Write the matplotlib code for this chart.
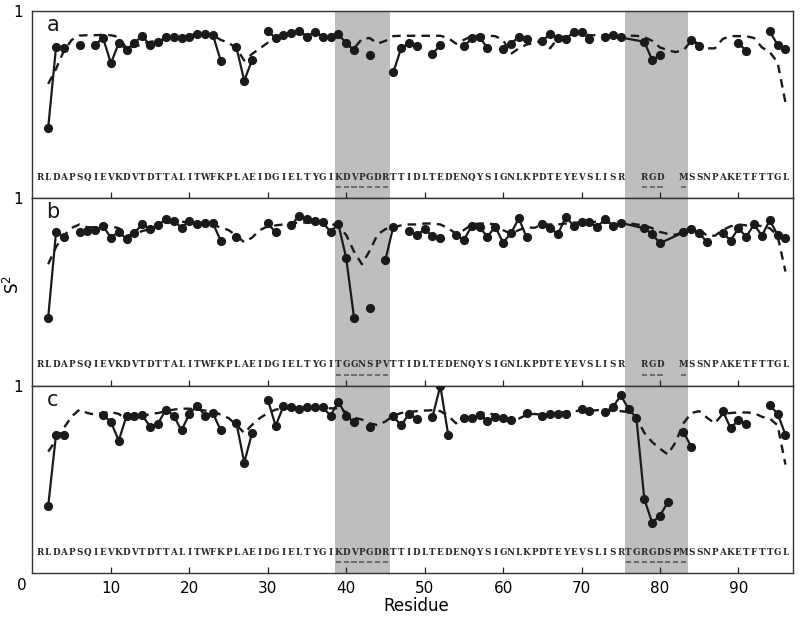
import numpy as np
import matplotlib
matplotlib.use("Agg")
import matplotlib.pyplot as plt

nan = np.nan

# ---------------- data ----------------
residues = np.arange(1, 97)

# measured S2 (solid line with dots), residue 1..96, nan = not observed
s2_a = [nan, 0.376, 0.805, 0.800, nan, 0.817, nan, 0.820, 0.855, 0.720,
        0.828, 0.793, 0.830, 0.865, 0.817, 0.833, 0.858, 0.862, 0.853, 0.858,
        0.879, 0.876, 0.872, 0.734, nan, 0.805, 0.628, 0.738, nan, 0.894,
        0.853, 0.871, 0.881, 0.895, 0.862, 0.888, 0.858, 0.863, 0.874, 0.828,
        0.789, nan, 0.762, nan, nan, 0.672, 0.800, 0.828, 0.814, nan,
        0.771, 0.817, nan, nan, 0.810, 0.853, 0.858, 0.803, nan, 0.794,
        0.823, 0.863, 0.849, nan, 0.840, 0.876, 0.855, 0.849, 0.888, 0.888,
        0.849, nan, 0.862, 0.871, 0.858, nan, nan, 0.835, 0.739, 0.762,
        nan, nan, nan, 0.846, 0.810, nan, nan, nan, nan, 0.828,
        0.787, nan, nan, 0.890, 0.819, 0.796]

s2_b = [nan, 0.362, 0.818, 0.795, nan, 0.821, 0.826, 0.830, 0.851, 0.790,
        0.821, 0.782, 0.816, 0.860, 0.836, 0.857, 0.887, 0.878, 0.843, 0.880,
        0.860, 0.869, 0.866, 0.774, nan, 0.795, nan, nan, nan, 0.866,
        0.818, nan, 0.857, 0.906, 0.887, 0.878, 0.871, 0.821, 0.862, 0.680,
        0.362, nan, 0.415, nan, 0.671, 0.848, nan, 0.826, 0.804, 0.834,
        0.798, 0.786, nan, 0.804, 0.777, 0.851, 0.845, 0.795, 0.848, 0.763,
        0.813, 0.892, 0.792, nan, 0.860, 0.839, 0.809, 0.901, 0.853, 0.874,
        0.871, 0.848, 0.887, 0.853, 0.869, nan, nan, 0.839, 0.809, 0.760,
        nan, nan, 0.818, 0.836, 0.816, 0.765, nan, 0.816, 0.774, 0.839,
        0.795, 0.860, 0.800, 0.883, 0.804, 0.789]

s2_c = [nan, 0.358, 0.739, 0.739, nan, nan, nan, nan, 0.846, 0.807,
        0.708, 0.841, 0.837, 0.843, 0.783, 0.798, 0.873, 0.841, 0.762, 0.850,
        0.895, 0.841, 0.855, 0.762, nan, 0.802, 0.591, 0.748, nan, 0.927,
        0.787, 0.891, 0.888, 0.877, 0.886, 0.886, 0.886, 0.841, 0.915, 0.841,
        0.805, nan, 0.783, nan, nan, 0.837, 0.789, 0.850, 0.823, nan,
        0.834, 1.000, 0.739, nan, 0.829, 0.829, 0.846, 0.814, 0.834, 0.829,
        0.816, nan, 0.855, nan, 0.837, 0.852, 0.852, 0.852, nan, 0.877,
        0.864, nan, 0.861, 0.886, 0.949, 0.877, 0.829, 0.397, 0.271, 0.307,
        0.379, nan, 0.753, 0.675, nan, nan, nan, 0.868, 0.775, 0.816,
        0.798, nan, nan, 0.896, 0.852, 0.739]

# predicted S2 (dashed line), residue 1..96
pred_a = [nan, 0.610, 0.690, 0.787, 0.845, 0.868, 0.870, 0.870, 0.872, 0.870,
          0.860, 0.800, 0.810, 0.820, 0.835, 0.840, 0.850, 0.855, 0.860, 0.870,
          0.875, 0.875, 0.870, 0.845, 0.830, 0.800, 0.735, 0.770, 0.800, 0.830,
          0.850, 0.870, 0.875, 0.880, 0.870, 0.875, 0.870, 0.865, 0.860, 0.820,
          0.800, 0.850, 0.855, 0.825, 0.840, 0.865, 0.867, 0.867, 0.867, 0.867,
          0.867, 0.867, 0.855, 0.825, 0.845, 0.865, 0.867, 0.867, 0.865, 0.845,
          0.770, 0.800, 0.820, 0.830, 0.840, 0.800, 0.855, 0.865, 0.875, 0.880,
          0.870, 0.870, 0.870, 0.870, 0.865, 0.867, 0.867, 0.860, 0.840, 0.805,
          0.790, 0.780, 0.790, 0.840, 0.825, 0.800, 0.800, 0.850, 0.865, 0.865,
          0.865, 0.855, 0.805, 0.780, 0.725, 0.512]

pred_b = [nan, 0.648, 0.740, 0.800, 0.842, 0.860, 0.845, 0.845, 0.855, 0.850,
          0.840, 0.800, 0.810, 0.825, 0.835, 0.850, 0.865, 0.875, 0.875, 0.870,
          0.870, 0.865, 0.855, 0.845, 0.830, 0.800, 0.765, 0.790, 0.830, 0.850,
          0.855, 0.860, 0.865, 0.870, 0.870, 0.870, 0.870, 0.865, 0.850, 0.804,
          0.715, 0.648, 0.720, 0.807, 0.835, 0.845, 0.855, 0.860, 0.860, 0.865,
          0.865, 0.860, 0.840, 0.810, 0.830, 0.860, 0.865, 0.865, 0.860, 0.830,
          0.810, 0.830, 0.845, 0.842, 0.860, 0.860, 0.860, 0.865, 0.870, 0.870,
          0.870, 0.875, 0.870, 0.870, 0.867, 0.867, 0.860, 0.855, 0.840, 0.820,
          0.810, 0.805, 0.820, 0.850, 0.835, 0.800, 0.800, 0.830, 0.850, 0.860,
          0.855, 0.860, 0.850, 0.840, 0.800, 0.609]

pred_c = [nan, 0.649, 0.710, 0.775, 0.837, 0.873, 0.855, 0.846, 0.855, 0.860,
          0.850, 0.820, 0.828, 0.837, 0.850, 0.855, 0.864, 0.873, 0.878, 0.878,
          0.873, 0.868, 0.864, 0.846, 0.828, 0.792, 0.748, 0.792, 0.828, 0.855,
          0.873, 0.880, 0.880, 0.880, 0.880, 0.880, 0.880, 0.880, 0.880, 0.860,
          0.830, 0.820, 0.800, 0.790, 0.810, 0.840, 0.855, 0.860, 0.865, 0.868,
          0.870, 0.865, 0.840, 0.800, 0.820, 0.840, 0.855, 0.855, 0.845, 0.830,
          0.815, 0.825, 0.845, 0.850, 0.845, 0.850, 0.855, 0.860, 0.865, 0.868,
          0.867, 0.870, 0.870, 0.867, 0.865, 0.860, 0.830, 0.750, 0.700, 0.665,
          0.634, 0.700, 0.800, 0.855, 0.865, 0.830, 0.800, 0.850, 0.855, 0.858,
          0.858, 0.855, 0.835, 0.825, 0.790, 0.580]

# gaps across which the measured line is still drawn
bridges_a = [(75, 78)]
bridges_b = [(75, 78), (80, 83)]
bridges_c = []

# sequences written under each panel (space = not shown)
seq_a = "RLDAPSQIEVKDVTDTTALITWFKPLAEIDGIELTYGIKDVPGDRTTIDLTEDENQYSIGNLKPDTEYEVSLISR  RGD  MSSNPAKETFTTGL"
seq_b = "RLDAPSQIEVKDVTDTTALITWFKPLAEIDGIELTYGITGGNSPVTTIDLTEDENQYSIGNLKPDTEYEVSLISR  RGD  MSSNPAKETFTTGL"
seq_c = "RLDAPSQIEVKDVTDTTALITWFKPLAEIDGIELTYGIKDVPGDRTTIDLTEDENQYSIGNLKPDTEYEVSLISRTGRGDSPMSSNPAKETFTTGL"

underline_a = list(range(39, 46)) + [78, 79, 80, 83]
underline_b = list(range(39, 46)) + [78, 79, 80, 83]
underline_c = list(range(39, 46)) + list(range(76, 84))

shaded = [(39, 45), (76, 83)]
panel_labels = ["a", "b", "c"]
xticks = list(range(10, 100, 10))

# ---------------- drawing ----------------
plt.rcParams["font.family"] = ["DejaVu Sans"]

fig = plt.figure(figsize=(8.0, 6.19), dpi=100)
left, width = 0.0406, 0.951
bottoms = [0.6796, 0.3769, 0.0738]
h = 0.3029

panels = [
    (s2_a, pred_a, bridges_a, seq_a, underline_a),
    (s2_b, pred_b, bridges_b, seq_b, underline_b),
    (s2_c, pred_c, bridges_c, seq_c, underline_c),
]

for k, (s2, pred, bridges, seq, ul) in enumerate(panels):
    ax = fig.add_axes([left, bottoms[k], width, h])
    ax.set_xlim(0, 97)
    ax.set_ylim(0, 1)
    for lo, hi in shaded:
        ax.axvspan(lo - 0.45, hi + 0.55, color="#bdbec0", lw=0, zorder=0)
    ax.plot(residues, pred, color="#1a1a1a", lw=1.7, ls=(0, (3.6, 2.6)), zorder=2)
    s2arr = np.array(s2)
    ax.plot(residues, s2arr, color="#1a1a1a", lw=1.6, zorder=3)
    for r0, r1 in bridges:
        ax.plot([r0, r1], [s2arr[r0 - 1], s2arr[r1 - 1]], color="#1a1a1a", lw=1.6, zorder=3)
    ax.plot(residues, s2arr, ls="none", marker="o", ms=5.6, color="#1a1a1a", zorder=4)

    for i, ch in enumerate(seq):
        if ch != " ":
            ax.text(i + 1, 0.112, ch, ha="center", va="center", fontsize=6.3,
                    family="DejaVu Serif", weight="bold", color="#2a2a2a")
    for r in ul:
        ax.plot([r - 0.33, r + 0.33], [0.058, 0.058], color="#555555", lw=1.1,
                solid_capstyle="butt", zorder=3)

    ax.text(0.027, 0.925, panel_labels[k], transform=ax.transAxes, ha="center",
            va="center", fontsize=15, family="DejaVu Sans", color="#1a1a1a")

    ax.set_xticks(xticks)
    ax.tick_params(axis="x", direction="in", length=4, width=0.9, color="#222222",
                   labelsize=11, pad=5.5, labelbottom=(k == 2))
    ax.set_yticks([1])
    ax.set_yticklabels(["1"])
    ax.tick_params(axis="y", length=0, labelsize=11, pad=7)
    for sp in ax.spines.values():
        sp.set_linewidth(1.0)
        sp.set_color("#333333")

fig.text(0.52, 1 - 606 / 619, "Residue", ha="center", va="center", fontsize=12)
fig.text(21.7 / 800, 1 - 586 / 619, "0", ha="center", va="center", fontsize=11)
fig.text(13 / 800, 1 - 285 / 619, "S$^2$", rotation=90, ha="center", va="center", fontsize=12)

fig.savefig("out.png", dpi=100)
